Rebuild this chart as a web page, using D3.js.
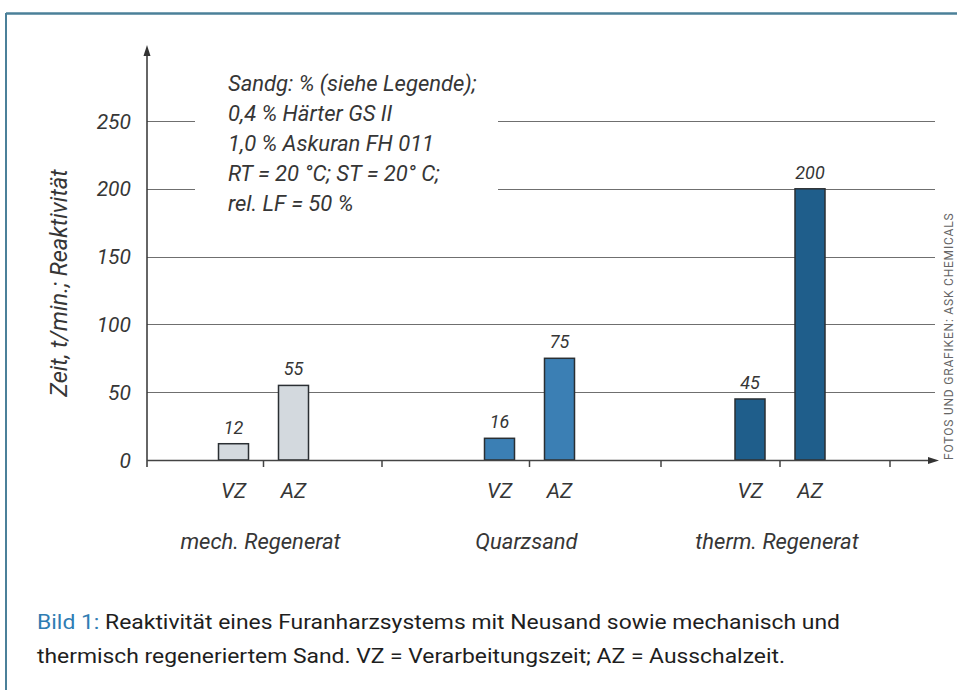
<!DOCTYPE html>
<html>
<head>
<meta charset="utf-8">
<script src="https://cdn.jsdelivr.net/npm/d3@7"></script>
<style>
  body { margin: 0; background: #fff; }
  svg text { font-family: Roboto, "Liberation Sans", sans-serif; }
  .it { font-style: italic; fill: #363636; }
</style>
</head>
<body>
<script>
// data
var groups = ["mech. Regenerat", "Quarzsand", "therm. Regenerat"];
var series = ["VZ", "AZ"];
var vz = [12, 16, 45];
var az = [55, 75, 200];
var groupColors = ["#d3d9de", "#3b7fb4", "#1f5e8b"];
var yTicks = [0, 50, 100, 150, 200, 250];
var noteLines = ["Sandg: % (siehe Legende);", "0,4 % Härter GS II", "1,0 % Askuran FH 011",
                 "RT = 20 °C; ST = 20° C;", "rel. LF = 50 %"];

var W = 957, H = 690;
var x0 = 147, x1 = 935, y0 = 460, yTop = 121;

var svg = d3.select("body").append("svg")
    .attr("width", W)
    .attr("height", H);

// frame lines
svg.append("line").attr("x1", 6).attr("x2", W).attr("y1", 13.5).attr("y2", 13.5)
    .attr("stroke", "#4b8099").attr("stroke-width", 2.5);
svg.append("line").attr("x1", 6).attr("x2", 6).attr("y1", 13).attr("y2", H)
    .attr("stroke", "#4b8099").attr("stroke-width", 2);

var y = d3.scaleLinear().domain([0, 250]).range([y0, yTop]);
// group centres and the tick to the right of each group
var gx = d3.scaleOrdinal().domain(groups).range([263.5, 529.5, 780]);
var gEdge = d3.scaleOrdinal().domain(groups).range([382, 661, 890]);
var sx = d3.scaleOrdinal().domain(series).range([-30, 30]);
var barW = 30;
function barX(gi, s) { return gx(groups[gi]) + sx(s) - barW / 2; }

// grid lines (interrupted behind the note for the upper ones)
yTicks.filter(function(d) { return d > 0; }).forEach(function(t) {
  var segs = t >= 200 ? [[x0, 195], [498, x1]] : [[x0, x1]];
  segs.forEach(function(s) {
    svg.append("line").attr("x1", s[0]).attr("x2", s[1])
      .attr("y1", Math.round(y(t)) + 0.5).attr("y2", Math.round(y(t)) + 0.5)
      .attr("stroke", "#6f6f6f").attr("stroke-width", 1.2);
  });
});

// y tick labels
svg.selectAll(".ytl").data(yTicks).enter().append("text")
    .attr("class", "it")
    .attr("x", 131).attr("y", function(d) { return y(d) + 7.5; })
    .attr("text-anchor", "end")
    .attr("font-size", 21)
    .text(function(d) { return d; });

// y title
svg.append("text").attr("class", "it")
    .attr("transform", "translate(67,283) rotate(-90)")
    .attr("text-anchor", "middle")
    .attr("font-size", 23.5)
    .text("Zeit, t/min.; Reaktivität");

// bars
var bars = [];
groups.forEach(function(g, i) {
  bars.push({ g: i, s: "VZ", v: vz[i] });
  bars.push({ g: i, s: "AZ", v: az[i] });
});
svg.selectAll(".bar").data(bars).enter().append("rect")
    .attr("x", function(d) { return barX(d.g, d.s); })
    .attr("y", function(d) { return y(d.v); })
    .attr("width", barW)
    .attr("height", function(d) { return y0 - y(d.v); })
    .attr("fill", function(d) { return groupColors[d.g]; })
    .attr("stroke", "#2a2f33").attr("stroke-width", 1.5);

svg.selectAll(".vl").data(bars).enter().append("text")
    .attr("class", "it")
    .attr("x", function(d) { return barX(d.g, d.s) + barW / 2; })
    .attr("y", function(d) { return y(d.v) - 10; })
    .attr("text-anchor", "middle")
    .attr("font-size", 18)
    .text(function(d) { return d.v; });

// series labels
svg.selectAll(".sl").data(bars).enter().append("text")
    .attr("class", "it")
    .attr("x", function(d) { return barX(d.g, d.s) + barW / 2; })
    .attr("y", 498)
    .attr("text-anchor", "middle")
    .attr("font-size", 21)
    .text(function(d) { return d.s; });

// group labels
svg.selectAll(".gl").data(groups).enter().append("text")
    .attr("class", "it")
    .attr("x", function(d) { return gx(d) - 3; })
    .attr("y", 549)
    .attr("text-anchor", "middle")
    .attr("font-size", 22)
    .text(function(d) { return d; });

// axes
svg.append("line").attr("x1", x0).attr("x2", x0).attr("y1", 52).attr("y2", 467)
    .attr("stroke", "#333").attr("stroke-width", 1.5);
svg.append("path").attr("d", "M" + x0 + ",45 l-3.5,11 l7,0 z").attr("fill", "#333");
svg.append("line").attr("x1", x0).attr("x2", 930).attr("y1", y0 + 0.5).attr("y2", y0 + 0.5)
    .attr("stroke", "#444").attr("stroke-width", 1.5);
svg.append("path").attr("d", "M939," + (y0 + 0.5) + " l-11,-3.5 l0,7 z").attr("fill", "#333");

// x ticks: inside each group and to its right
var xTicks = [];
groups.forEach(function(g) { xTicks.push(gx(g), gEdge(g)); });
svg.selectAll(".xt").data(xTicks).enter().append("line")
    .attr("x1", function(d) { return d; }).attr("x2", function(d) { return d; })
    .attr("y1", y0).attr("y2", y0 + 7)
    .attr("stroke", "#444").attr("stroke-width", 1.5);

// note text
svg.selectAll(".note").data(noteLines).enter().append("text")
    .attr("class", "it")
    .attr("x", 228)
    .attr("y", function(d, i) { return 91 + i * 30; })
    .attr("font-size", 22)
    .text(function(d) { return d; });

// credit on right edge
svg.append("text")
    .attr("transform", "translate(953,460) rotate(-90)")
    .attr("font-size", 12)
    .attr("fill", "#666")
    .attr("letter-spacing", 0.8)
    .text("FOTOS UND GRAFIKEN: ASK CHEMICALS");

// caption
var cap1 = svg.append("text").attr("x", 37).attr("y", 629).attr("font-size", 20.5)
    .attr("textLength", 803).attr("lengthAdjust", "spacingAndGlyphs");
cap1.append("tspan").attr("fill", "#2f7db3").text("Bild 1: ");
cap1.append("tspan").attr("fill", "#1e1e1e").text("Reaktivität eines Furanharzsystems mit Neusand sowie mechanisch und");
svg.append("text").attr("x", 37).attr("y", 663).attr("font-size", 20.5).attr("fill", "#1e1e1e")
    .attr("textLength", 748).attr("lengthAdjust", "spacingAndGlyphs")
    .text("thermisch regeneriertem Sand. VZ = Verarbeitungszeit; AZ = Ausschalzeit.");
</script>
</body>
</html>
